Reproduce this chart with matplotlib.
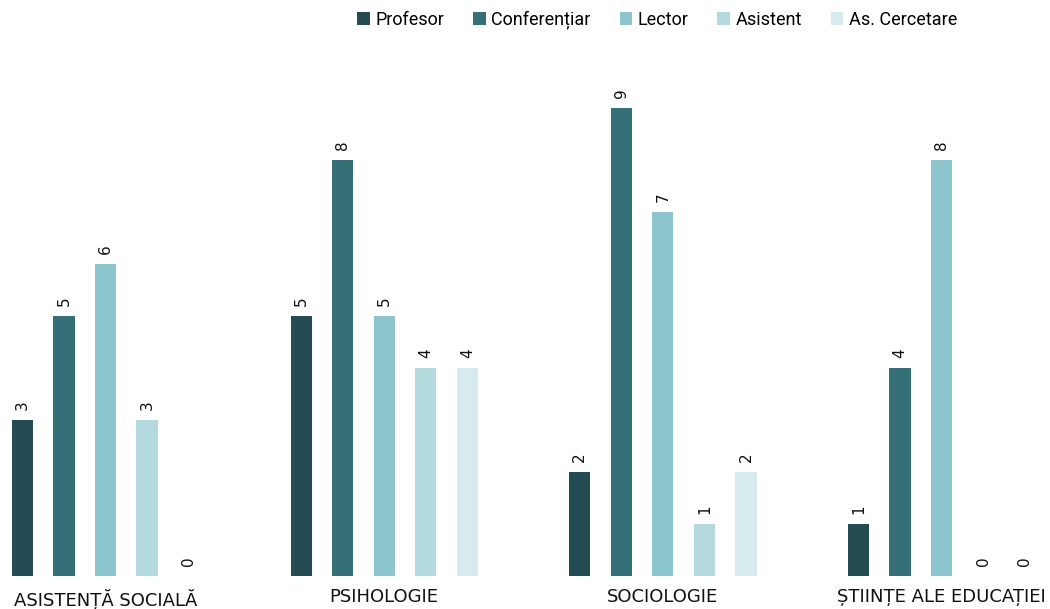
import matplotlib
matplotlib.use("Agg")
import matplotlib.pyplot as plt
import numpy as np

categories = ["ASISTENȚĂ SOCIALĂ", "PSIHOLOGIE", "SOCIOLOGIE", "ȘTIINȚE ALE EDUCAȚIEI"]
series = ["Profesor", "Conferențiar", "Lector", "Asistent", "As. Cercetare"]
values = {
    "Profesor": [3, 5, 2, 1],
    "Conferențiar": [5, 8, 9, 4],
    "Lector": [6, 5, 7, 8],
    "Asistent": [3, 4, 1, 0],
    "As. Cercetare": [0, 4, 2, 0],
}
colors = ["#244c52", "#357079", "#8cc5cd", "#b4dadf", "#d7ebef"]

fig = plt.figure(figsize=(10.5, 6.09), dpi=100)
ax = fig.add_axes([0, 33 / 609, 1, 520 / 609])

x = np.arange(len(categories))
pitch = 0.149
width = 0.076
for i, (name, col) in enumerate(zip(series, colors)):
    xs = x + (i - 2) * pitch
    vals = values[name]
    ax.bar(xs, vals, width=width, color=col, label=name)
    for xi, v in zip(xs, vals):
        ax.text(xi, v + 0.2, str(v), rotation=90, ha="center", va="bottom",
                fontsize=11, color="#111111", family="DejaVu Sans")

ax.set_xlim(-0.3786, 3.389)
ax.set_ylim(0, 10)
ax.set_yticks([])
ax.set_xticks(x)
ax.set_xticklabels(categories, fontsize=13, color="#111111", family="DejaVu Sans")
ax.tick_params(axis="x", length=0, pad=9)
for s in ax.spines.values():
    s.set_visible(False)

fig.legend(loc="center", bbox_to_anchor=(0.626, 0.967), ncol=5, frameon=False,
           handlelength=0.7, handleheight=0.7, handletextpad=0.3,
           columnspacing=1.6, prop={"family": "Roboto", "size": 13})

fig.savefig("out.png", dpi=100)
